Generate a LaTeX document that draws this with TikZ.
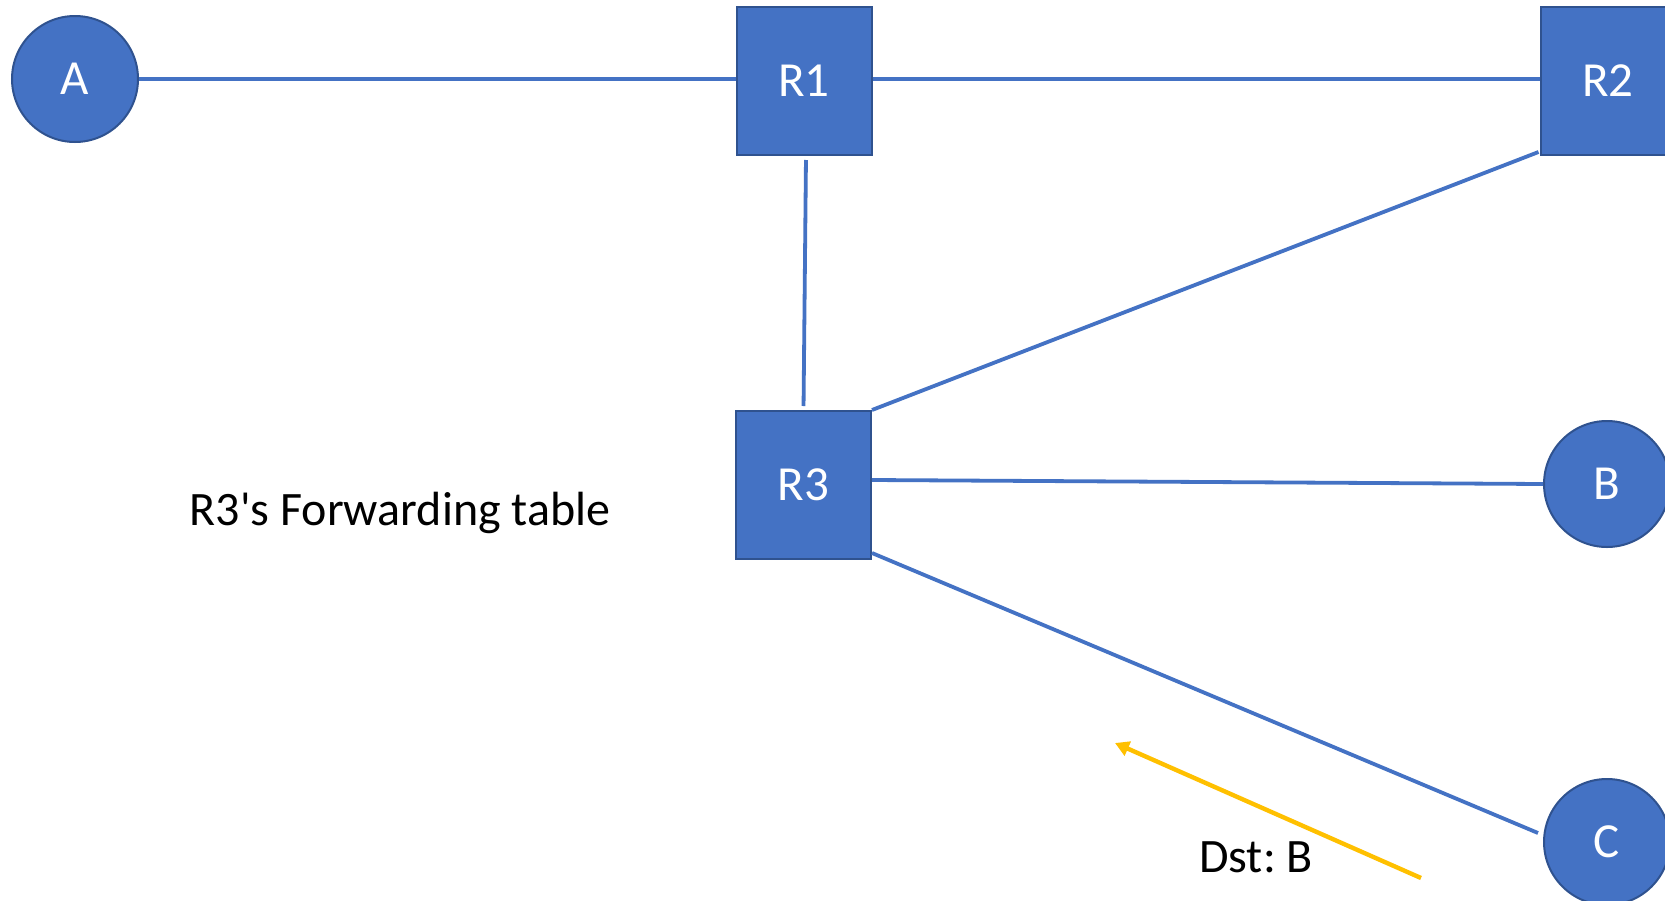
\documentclass[tikz,border=0pt]{standalone}
\usepackage{fontspec}
\setmainfont{Carlito}[Ligatures=TeXOff]
\usetikzlibrary{arrows.meta}
\definecolor{netblue}{HTML}{4472C4}
\definecolor{netedge}{HTML}{2F528F}
\definecolor{pktyellow}{HTML}{FFC000}
\frenchspacing
\tikzset{
  host/.style={circle, fill=netblue, draw=netedge, line width=1pt, minimum size=63pt,
    inner sep=0pt, text=white, font=\fontsize{24.5}{29}\selectfont},
  router/.style={rectangle, fill=netblue, draw=netedge, line width=1pt,
    minimum width=67.5pt, minimum height=74pt, inner sep=0pt, text=white,
    font=\fontsize{24.5}{29}\selectfont},
  link/.style={draw=netblue, line width=1.9pt},
  packet/.style={draw=pktyellow, line width=2.2pt, -{Triangle[length=7pt,width=7.5pt]}},
  caption/.style={text=black, font=\fontsize{24}{29}\selectfont, inner sep=0pt}
}
\begin{document}
\begin{tikzpicture}[x=0.5pt,y=-0.5pt]
  \clip (0,0) rectangle (1665,900);
  \fill[white] (0,0) rectangle (1665,900);

  % hosts and routers
  \node[host]   (A)  at (75,79)    {A};
  \node[router] (R1) at (804,81)   {R1};
  \node[router] (R2) at (1608,81)  {R2};
  \node[router] (R3) at (803.5,485) {R3};
  \node[host]   (B)  at (1607,484) {B};
  \node[host]   (C)  at (1607,842) {C};

  % links
  \draw[link] (A.east) -- ([yshift=1pt]R1.west);
  \draw[link] ([yshift=1pt]R1.east) -- ([yshift=1pt]R2.west);
  \draw[link, shorten <=2pt, shorten >=2pt] ([xshift=1pt]R1.south) -- (R3.north);
  \draw[link] (R3.north east) -- ([xshift=-0.5pt,yshift=2pt]R2.south west);
  \draw[link] ([yshift=2.5pt]R3.east) -- (B.west);
  \draw[link] ([yshift=3.5pt]R3.south east) -- ([xshift=-2.5pt,yshift=4.5pt]C.west);

  % packet travelling from C towards R3
  \coordinate (pktTail) at (1421,878);
  \coordinate (pktHead) at (1115,743);
  \draw[packet] (pktTail) -- (pktHead);

  % labels
  \node[caption] (dst) at (1256,857) {Dst: B};
  \node[caption] (ftab) at (400,513) {R3's Forwarding table};
\end{tikzpicture}
\end{document}
